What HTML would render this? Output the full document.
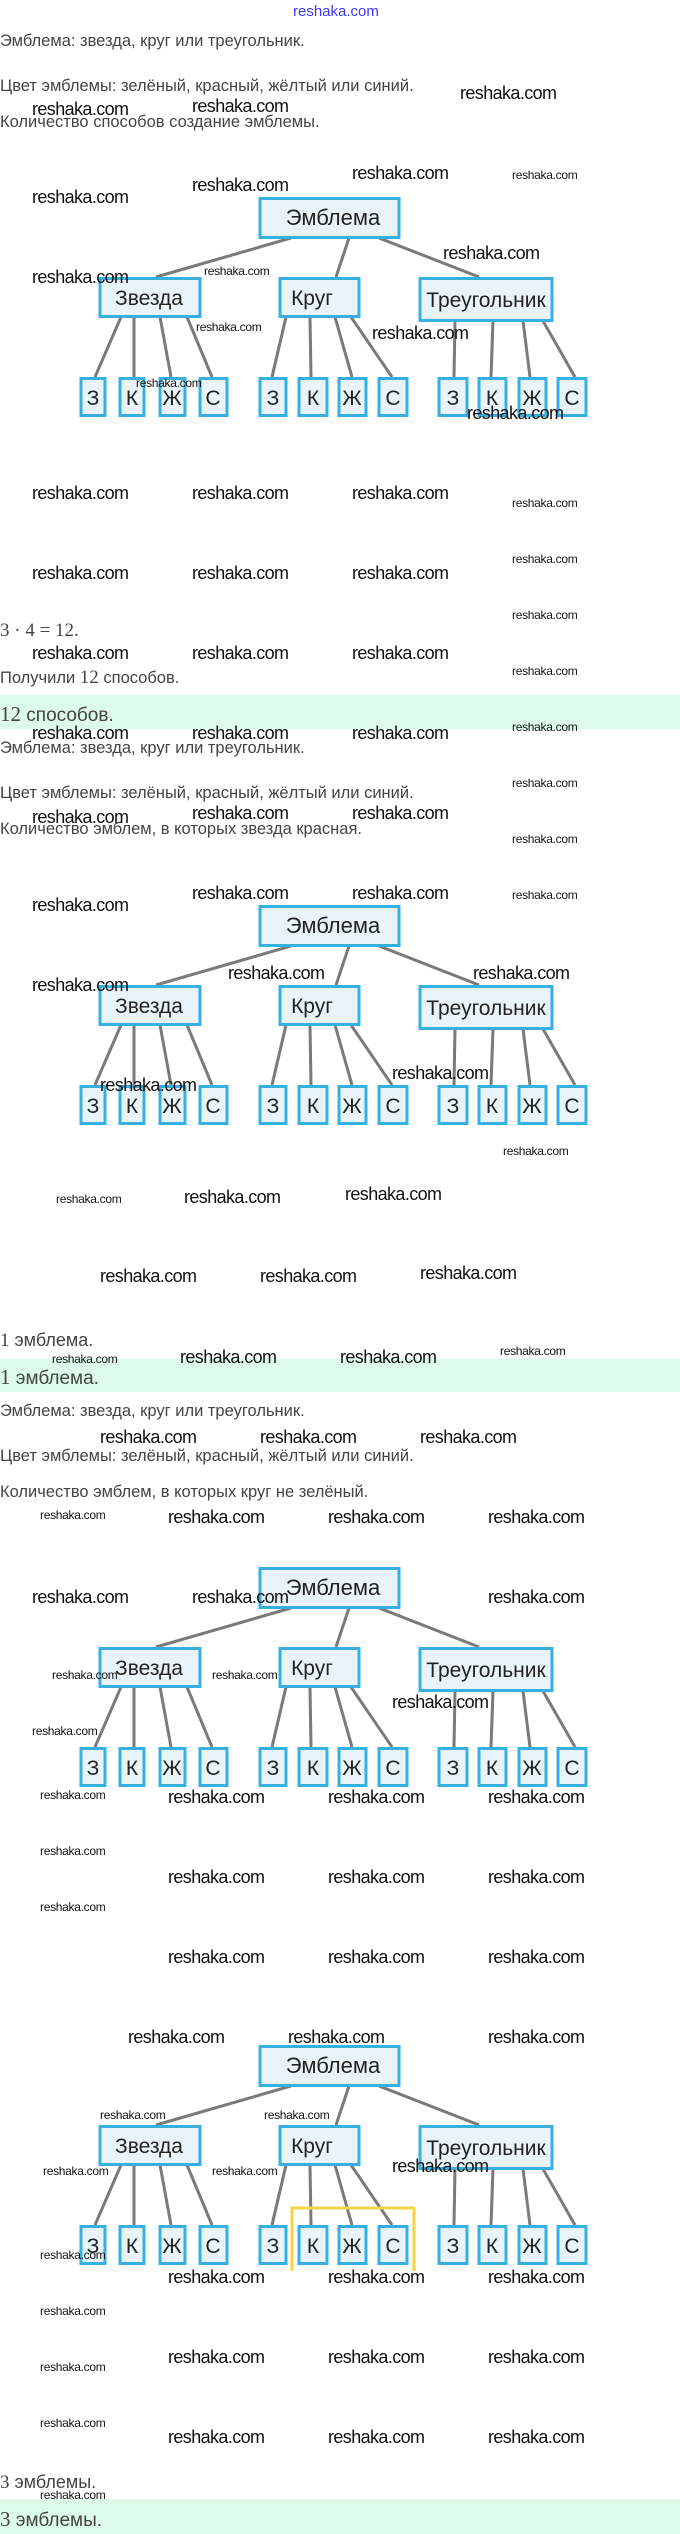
<!DOCTYPE html>
<html><head><meta charset="utf-8">
<style>
*{margin:0;padding:0;box-sizing:border-box}
body{width:680px;height:2534px;position:relative;background:#fff;overflow:hidden;font-family:"Liberation Sans","DejaVu Sans",sans-serif;color:#444}
.t{position:absolute;left:0;font-size:16.5px;line-height:20px;white-space:nowrap}
.s{font-family:"Liberation Serif",serif;font-size:19px}
.band{position:absolute;left:0;width:680px;background:#dcfbe8}
.w{position:absolute;font-size:18px;line-height:22px;color:#111;letter-spacing:-0.6px;white-space:nowrap}
.ws{position:absolute;font-size:12px;line-height:14px;color:#111;letter-spacing:-0.3px;white-space:nowrap}
svg.d{position:absolute;left:0;width:680px;height:226px}
svg.d text{font-family:"Liberation Sans",sans-serif;fill:#222}
</style></head><body>

<div style="position:absolute;left:293px;top:3px;font-size:15px;color:#3a3aff;font-family:'Liberation Sans',sans-serif">reshaka.com</div>

<div class="t" style="top:31px">Эмблема: звезда, круг или треугольник.</div>
<div class="t" style="top:76px">Цвет эмблемы: зелёный, красный, жёлтый или синий.</div>
<div class="t" style="top:112px">Количество способов создание эмблемы.</div>

<div class="t s" style="top:621px">3 · 4 = 12.</div>
<div class="t" style="top:668px">Получили <span class="s">12</span> способов.</div>
<div class="band" style="top:695px;height:34px"></div>
<div class="t" style="top:702px;font-size:19px;line-height:24px"><span class="s" style="font-size:21px">12</span> способов.</div>
<div class="t" style="top:738px">Эмблема: звезда, круг или треугольник.</div>
<div class="t" style="top:783px">Цвет эмблемы: зелёный, красный, жёлтый или синий.</div>
<div class="t" style="top:819px">Количество эмблем, в которых звезда красная.</div>

<div class="t" style="top:1330px;font-size:18px"><span class="s">1</span> эмблема.</div>
<div class="band" style="top:1359px;height:33px"></div>
<div class="t" style="top:1365px;font-size:19px;line-height:24px"><span class="s" style="font-size:21px">1</span> эмблема.</div>
<div class="t" style="top:1401px">Эмблема: звезда, круг или треугольник.</div>
<div class="t" style="top:1446px">Цвет эмблемы: зелёный, красный, жёлтый или синий.</div>
<div class="t" style="top:1482px">Количество эмблем, в которых круг не зелёный.</div>

<div class="t" style="top:2472px;font-size:18px"><span class="s">3</span> эмблемы.</div>
<div class="band" style="top:2499px;height:35px"></div>
<div class="t" style="top:2507px;font-size:19px;line-height:24px"><span class="s" style="font-size:21px">3</span> эмблемы.</div>

<!-- diagram 1 -->
<svg class="d" style="top:197px" viewBox="0 0 680 226">
<g stroke="#7a7a7a" stroke-width="3" fill="none">
<line x1="291" y1="41" x2="156" y2="80"/><line x1="349" y1="41" x2="336" y2="80"/><line x1="379" y1="41" x2="479" y2="80"/>
<line x1="121" y1="120" x2="95" y2="180"/><line x1="134" y1="120" x2="134" y2="180"/><line x1="160" y1="120" x2="171" y2="180"/><line x1="187" y1="120" x2="212" y2="180"/>
<line x1="286" y1="120" x2="272" y2="180"/><line x1="310" y1="120" x2="311" y2="180"/><line x1="335" y1="120" x2="352" y2="180"/><line x1="351" y1="120" x2="392" y2="180"/>
<line x1="455" y1="124" x2="454" y2="180"/><line x1="493" y1="124" x2="491" y2="180"/><line x1="523" y1="124" x2="530" y2="180"/><line x1="543" y1="124" x2="575" y2="180"/>
</g>
<g stroke="#35b0e0" stroke-width="3" fill="#e8f4fa">
<rect x="260" y="1.5" width="139" height="39"/>
<rect x="100" y="81.5" width="100" height="38"/><rect x="280" y="81.5" width="79" height="38"/><rect x="420" y="81.5" width="132" height="42"/>
<rect x="81" y="181.5" width="24" height="37"/><rect x="120" y="181.5" width="24" height="37"/><rect x="160" y="181.5" width="25" height="37"/><rect x="200" y="181.5" width="27" height="37"/>
<rect x="260" y="181.5" width="26" height="37"/><rect x="299" y="181.5" width="28" height="37"/><rect x="339" y="181.5" width="27" height="37"/><rect x="379" y="181.5" width="28" height="37"/>
<rect x="439" y="181.5" width="28" height="37"/><rect x="479" y="181.5" width="27" height="37"/><rect x="519" y="181.5" width="27" height="37"/><rect x="558" y="181.5" width="28" height="37"/>
</g>
<g font-size="21" text-anchor="middle">
<text x="333" y="28" font-size="22">Эмблема</text>
<text x="149" y="108">Звезда</text><text x="312" y="108">Круг</text><text x="486" y="110">Треугольник</text>
<text x="93" y="208">З</text><text x="132" y="208">К</text><text x="172" y="208">Ж</text><text x="213" y="208">С</text>
<text x="273" y="208">З</text><text x="313" y="208">К</text><text x="352" y="208">Ж</text><text x="393" y="208">С</text>
<text x="453" y="208">З</text><text x="492" y="208">К</text><text x="532" y="208">Ж</text><text x="572" y="208">С</text>
</g></svg>

<!-- diagram 2 -->
<svg class="d" style="top:905px" viewBox="0 0 680 226">
<g stroke="#7a7a7a" stroke-width="3" fill="none">
<line x1="291" y1="41" x2="156" y2="80"/><line x1="349" y1="41" x2="336" y2="80"/><line x1="379" y1="41" x2="479" y2="80"/>
<line x1="121" y1="120" x2="95" y2="180"/><line x1="134" y1="120" x2="134" y2="180"/><line x1="160" y1="120" x2="171" y2="180"/><line x1="187" y1="120" x2="212" y2="180"/>
<line x1="286" y1="120" x2="272" y2="180"/><line x1="310" y1="120" x2="311" y2="180"/><line x1="335" y1="120" x2="352" y2="180"/><line x1="351" y1="120" x2="392" y2="180"/>
<line x1="455" y1="124" x2="454" y2="180"/><line x1="493" y1="124" x2="491" y2="180"/><line x1="523" y1="124" x2="530" y2="180"/><line x1="543" y1="124" x2="575" y2="180"/>
</g>
<g stroke="#35b0e0" stroke-width="3" fill="#e8f4fa">
<rect x="260" y="1.5" width="139" height="39"/>
<rect x="100" y="81.5" width="100" height="38"/><rect x="280" y="81.5" width="79" height="38"/><rect x="420" y="81.5" width="132" height="42"/>
<rect x="81" y="181.5" width="24" height="37"/><rect x="120" y="181.5" width="24" height="37"/><rect x="160" y="181.5" width="25" height="37"/><rect x="200" y="181.5" width="27" height="37"/>
<rect x="260" y="181.5" width="26" height="37"/><rect x="299" y="181.5" width="28" height="37"/><rect x="339" y="181.5" width="27" height="37"/><rect x="379" y="181.5" width="28" height="37"/>
<rect x="439" y="181.5" width="28" height="37"/><rect x="479" y="181.5" width="27" height="37"/><rect x="519" y="181.5" width="27" height="37"/><rect x="558" y="181.5" width="28" height="37"/>
</g>
<g font-size="21" text-anchor="middle">
<text x="333" y="28" font-size="22">Эмблема</text>
<text x="149" y="108">Звезда</text><text x="312" y="108">Круг</text><text x="486" y="110">Треугольник</text>
<text x="93" y="208">З</text><text x="132" y="208">К</text><text x="172" y="208">Ж</text><text x="213" y="208">С</text>
<text x="273" y="208">З</text><text x="313" y="208">К</text><text x="352" y="208">Ж</text><text x="393" y="208">С</text>
<text x="453" y="208">З</text><text x="492" y="208">К</text><text x="532" y="208">Ж</text><text x="572" y="208">С</text>
</g></svg>

<!-- diagram 3 -->
<svg class="d" style="top:1567px" viewBox="0 0 680 226">
<g stroke="#7a7a7a" stroke-width="3" fill="none">
<line x1="291" y1="41" x2="156" y2="80"/><line x1="349" y1="41" x2="336" y2="80"/><line x1="379" y1="41" x2="479" y2="80"/>
<line x1="121" y1="120" x2="95" y2="180"/><line x1="134" y1="120" x2="134" y2="180"/><line x1="160" y1="120" x2="171" y2="180"/><line x1="187" y1="120" x2="212" y2="180"/>
<line x1="286" y1="120" x2="272" y2="180"/><line x1="310" y1="120" x2="311" y2="180"/><line x1="335" y1="120" x2="352" y2="180"/><line x1="351" y1="120" x2="392" y2="180"/>
<line x1="455" y1="124" x2="454" y2="180"/><line x1="493" y1="124" x2="491" y2="180"/><line x1="523" y1="124" x2="530" y2="180"/><line x1="543" y1="124" x2="575" y2="180"/>
</g>
<g stroke="#35b0e0" stroke-width="3" fill="#e8f4fa">
<rect x="260" y="1.5" width="139" height="39"/>
<rect x="100" y="81.5" width="100" height="38"/><rect x="280" y="81.5" width="79" height="38"/><rect x="420" y="81.5" width="132" height="42"/>
<rect x="81" y="181.5" width="24" height="37"/><rect x="120" y="181.5" width="24" height="37"/><rect x="160" y="181.5" width="25" height="37"/><rect x="200" y="181.5" width="27" height="37"/>
<rect x="260" y="181.5" width="26" height="37"/><rect x="299" y="181.5" width="28" height="37"/><rect x="339" y="181.5" width="27" height="37"/><rect x="379" y="181.5" width="28" height="37"/>
<rect x="439" y="181.5" width="28" height="37"/><rect x="479" y="181.5" width="27" height="37"/><rect x="519" y="181.5" width="27" height="37"/><rect x="558" y="181.5" width="28" height="37"/>
</g>
<g font-size="21" text-anchor="middle">
<text x="333" y="28" font-size="22">Эмблема</text>
<text x="149" y="108">Звезда</text><text x="312" y="108">Круг</text><text x="486" y="110">Треугольник</text>
<text x="93" y="208">З</text><text x="132" y="208">К</text><text x="172" y="208">Ж</text><text x="213" y="208">С</text>
<text x="273" y="208">З</text><text x="313" y="208">К</text><text x="352" y="208">Ж</text><text x="393" y="208">С</text>
<text x="453" y="208">З</text><text x="492" y="208">К</text><text x="532" y="208">Ж</text><text x="572" y="208">С</text>
</g></svg>

<!-- diagram 4 -->
<svg class="d" style="top:2045px" viewBox="0 0 680 226">
<g stroke="#7a7a7a" stroke-width="3" fill="none">
<line x1="291" y1="41" x2="156" y2="80"/><line x1="349" y1="41" x2="336" y2="80"/><line x1="379" y1="41" x2="479" y2="80"/>
<line x1="121" y1="120" x2="95" y2="180"/><line x1="134" y1="120" x2="134" y2="180"/><line x1="160" y1="120" x2="171" y2="180"/><line x1="187" y1="120" x2="212" y2="180"/>
<line x1="286" y1="120" x2="272" y2="180"/><line x1="310" y1="120" x2="311" y2="180"/><line x1="335" y1="120" x2="352" y2="180"/><line x1="351" y1="120" x2="392" y2="180"/>
<line x1="455" y1="124" x2="454" y2="180"/><line x1="493" y1="124" x2="491" y2="180"/><line x1="523" y1="124" x2="530" y2="180"/><line x1="543" y1="124" x2="575" y2="180"/>
</g>
<g stroke="#35b0e0" stroke-width="3" fill="#e8f4fa">
<rect x="260" y="1.5" width="139" height="39"/>
<rect x="100" y="81.5" width="100" height="38"/><rect x="280" y="81.5" width="79" height="38"/><rect x="420" y="81.5" width="132" height="42"/>
<rect x="81" y="181.5" width="24" height="37"/><rect x="120" y="181.5" width="24" height="37"/><rect x="160" y="181.5" width="25" height="37"/><rect x="200" y="181.5" width="27" height="37"/>
<rect x="260" y="181.5" width="26" height="37"/><rect x="299" y="181.5" width="28" height="37"/><rect x="339" y="181.5" width="27" height="37"/><rect x="379" y="181.5" width="28" height="37"/>
<rect x="439" y="181.5" width="28" height="37"/><rect x="479" y="181.5" width="27" height="37"/><rect x="519" y="181.5" width="27" height="37"/><rect x="558" y="181.5" width="28" height="37"/>
</g>
<rect x="292" y="163" width="122" height="67" fill="none" stroke="#f5d442" stroke-width="3"/>
<g font-size="21" text-anchor="middle">
<text x="333" y="28" font-size="22">Эмблема</text>
<text x="149" y="108">Звезда</text><text x="312" y="108">Круг</text><text x="486" y="110">Треугольник</text>
<text x="93" y="208">З</text><text x="132" y="208">К</text><text x="172" y="208">Ж</text><text x="213" y="208">С</text>
<text x="273" y="208">З</text><text x="313" y="208">К</text><text x="352" y="208">Ж</text><text x="393" y="208">С</text>
<text x="453" y="208">З</text><text x="492" y="208">К</text><text x="532" y="208">Ж</text><text x="572" y="208">С</text>
</g></svg>

<!-- watermarks big -->
<div class="w" style="left:460px;top:82px">reshaka.com</div>
<div class="w" style="left:32px;top:98px">reshaka.com</div>
<div class="w" style="left:192px;top:95px">reshaka.com</div>
<div class="w" style="left:352px;top:162px">reshaka.com</div>
<div class="w" style="left:192px;top:174px">reshaka.com</div>
<div class="w" style="left:32px;top:186px">reshaka.com</div>
<div class="w" style="left:443px;top:242px">reshaka.com</div>
<div class="w" style="left:32px;top:266px">reshaka.com</div>
<div class="w" style="left:372px;top:322px">reshaka.com</div>
<div class="w" style="left:467px;top:402px">reshaka.com</div>
<div class="w" style="left:32px;top:482px">reshaka.com</div><div class="w" style="left:192px;top:482px">reshaka.com</div><div class="w" style="left:352px;top:482px">reshaka.com</div>
<div class="w" style="left:32px;top:562px">reshaka.com</div><div class="w" style="left:192px;top:562px">reshaka.com</div><div class="w" style="left:352px;top:562px">reshaka.com</div>
<div class="w" style="left:32px;top:642px">reshaka.com</div><div class="w" style="left:192px;top:642px">reshaka.com</div><div class="w" style="left:352px;top:642px">reshaka.com</div>
<div class="w" style="left:32px;top:722px">reshaka.com</div><div class="w" style="left:192px;top:722px">reshaka.com</div><div class="w" style="left:352px;top:722px">reshaka.com</div>
<div class="w" style="left:32px;top:806px">reshaka.com</div><div class="w" style="left:192px;top:802px">reshaka.com</div><div class="w" style="left:352px;top:802px">reshaka.com</div>
<div class="w" style="left:192px;top:882px">reshaka.com</div><div class="w" style="left:352px;top:882px">reshaka.com</div>
<div class="w" style="left:32px;top:894px">reshaka.com</div>
<div class="w" style="left:228px;top:962px">reshaka.com</div><div class="w" style="left:473px;top:962px">reshaka.com</div>
<div class="w" style="left:32px;top:974px">reshaka.com</div>
<div class="w" style="left:392px;top:1062px">reshaka.com</div>
<div class="w" style="left:100px;top:1074px">reshaka.com</div>
<div class="w" style="left:184px;top:1186px">reshaka.com</div><div class="w" style="left:345px;top:1183px">reshaka.com</div>
<div class="w" style="left:100px;top:1265px">reshaka.com</div><div class="w" style="left:260px;top:1265px">reshaka.com</div><div class="w" style="left:420px;top:1262px">reshaka.com</div>
<div class="w" style="left:180px;top:1346px">reshaka.com</div><div class="w" style="left:340px;top:1346px">reshaka.com</div>
<div class="w" style="left:100px;top:1426px">reshaka.com</div><div class="w" style="left:260px;top:1426px">reshaka.com</div><div class="w" style="left:420px;top:1426px">reshaka.com</div>
<div class="w" style="left:168px;top:1506px">reshaka.com</div><div class="w" style="left:328px;top:1506px">reshaka.com</div><div class="w" style="left:488px;top:1506px">reshaka.com</div>
<div class="w" style="left:32px;top:1586px">reshaka.com</div><div class="w" style="left:192px;top:1586px">reshaka.com</div><div class="w" style="left:488px;top:1586px">reshaka.com</div>
<div class="w" style="left:392px;top:1691px">reshaka.com</div>
<div class="w" style="left:168px;top:1786px">reshaka.com</div><div class="w" style="left:328px;top:1786px">reshaka.com</div><div class="w" style="left:488px;top:1786px">reshaka.com</div>
<div class="w" style="left:168px;top:1866px">reshaka.com</div><div class="w" style="left:328px;top:1866px">reshaka.com</div><div class="w" style="left:488px;top:1866px">reshaka.com</div>
<div class="w" style="left:168px;top:1946px">reshaka.com</div><div class="w" style="left:328px;top:1946px">reshaka.com</div><div class="w" style="left:488px;top:1946px">reshaka.com</div>
<div class="w" style="left:128px;top:2026px">reshaka.com</div><div class="w" style="left:288px;top:2026px">reshaka.com</div><div class="w" style="left:488px;top:2026px">reshaka.com</div>
<div class="w" style="left:392px;top:2155px">reshaka.com</div>
<div class="w" style="left:168px;top:2266px">reshaka.com</div><div class="w" style="left:328px;top:2266px">reshaka.com</div><div class="w" style="left:488px;top:2266px">reshaka.com</div>
<div class="w" style="left:168px;top:2346px">reshaka.com</div><div class="w" style="left:328px;top:2346px">reshaka.com</div><div class="w" style="left:488px;top:2346px">reshaka.com</div>
<div class="w" style="left:168px;top:2426px">reshaka.com</div><div class="w" style="left:328px;top:2426px">reshaka.com</div><div class="w" style="left:488px;top:2426px">reshaka.com</div>

<!-- watermarks small -->
<div class="ws" style="left:512px;top:168px">reshaka.com</div>
<div class="ws" style="left:204px;top:264px">reshaka.com</div>
<div class="ws" style="left:196px;top:320px">reshaka.com</div>
<div class="ws" style="left:136px;top:376px">reshaka.com</div>
<div class="ws" style="left:512px;top:496px">reshaka.com</div>
<div class="ws" style="left:512px;top:552px">reshaka.com</div>
<div class="ws" style="left:512px;top:608px">reshaka.com</div>
<div class="ws" style="left:512px;top:664px">reshaka.com</div>
<div class="ws" style="left:512px;top:720px">reshaka.com</div>
<div class="ws" style="left:512px;top:776px">reshaka.com</div>
<div class="ws" style="left:512px;top:832px">reshaka.com</div>
<div class="ws" style="left:512px;top:888px">reshaka.com</div>
<div class="ws" style="left:503px;top:1144px">reshaka.com</div>
<div class="ws" style="left:56px;top:1192px">reshaka.com</div>
<div class="ws" style="left:500px;top:1344px">reshaka.com</div>
<div class="ws" style="left:52px;top:1352px">reshaka.com</div>
<div class="ws" style="left:40px;top:1508px">reshaka.com</div>
<div class="ws" style="left:52px;top:1668px">reshaka.com</div>
<div class="ws" style="left:212px;top:1668px">reshaka.com</div>
<div class="ws" style="left:32px;top:1724px">reshaka.com</div>
<div class="ws" style="left:40px;top:1788px">reshaka.com</div>
<div class="ws" style="left:40px;top:1844px">reshaka.com</div>
<div class="ws" style="left:40px;top:1900px">reshaka.com</div>
<div class="ws" style="left:100px;top:2108px">reshaka.com</div>
<div class="ws" style="left:264px;top:2108px">reshaka.com</div>
<div class="ws" style="left:43px;top:2164px">reshaka.com</div>
<div class="ws" style="left:212px;top:2164px">reshaka.com</div>
<div class="ws" style="left:40px;top:2248px">reshaka.com</div>
<div class="ws" style="left:40px;top:2304px">reshaka.com</div>
<div class="ws" style="left:40px;top:2360px">reshaka.com</div>
<div class="ws" style="left:40px;top:2416px">reshaka.com</div>
<div class="ws" style="left:40px;top:2488px">reshaka.com</div>

</body></html>
